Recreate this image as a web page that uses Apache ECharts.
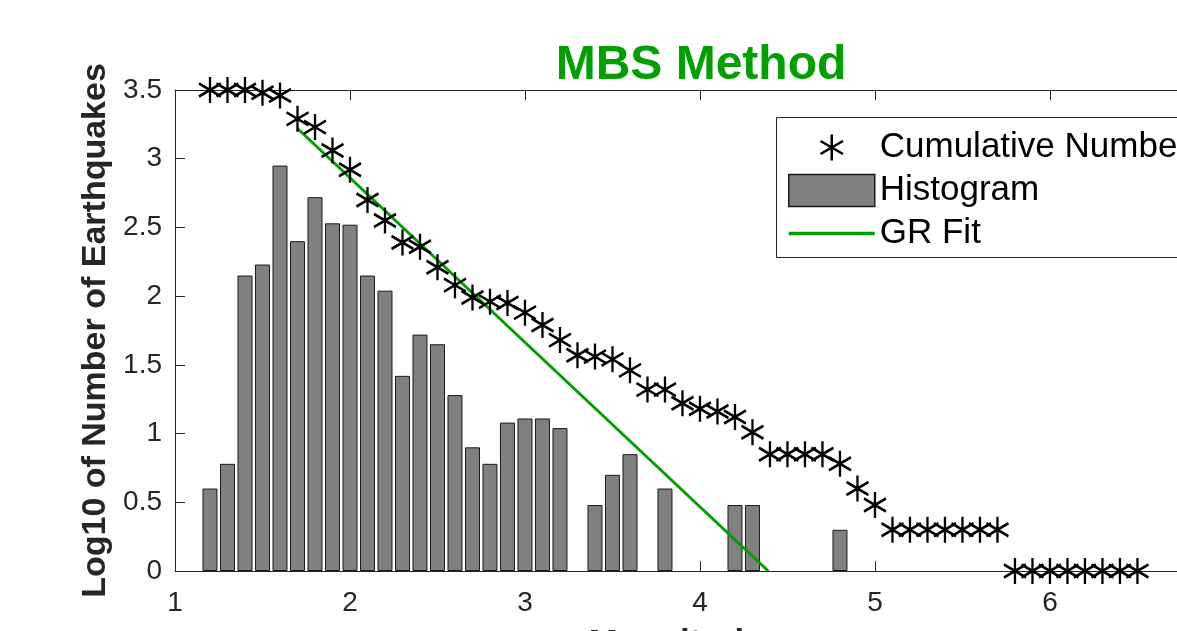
<!DOCTYPE html>
<html>
<head>
<meta charset="utf-8">
<script src="https://cdn.jsdelivr.net/npm/echarts@6/dist/echarts.min.js"></script>
<style>
html,body{margin:0;padding:0;background:#fff;}
#chart{width:1177px;height:631px;}
</style>
</head>
<body>
<div id="chart"></div>
<script>
// Cumulative number (log10) per magnitude bin
const cumMag = [1.2,1.3,1.4,1.5,1.6,1.7,1.8,1.9,2.0,2.1,2.2,2.3,2.4,2.5,2.6,2.7,2.8,2.9,3.0,3.1,3.2,3.3,3.4,3.5,3.6,3.7,3.8,3.9,4.0,4.1,4.2,4.3,4.4,4.5,4.6,4.7,4.8,4.9,5.0,5.1,5.2,5.3,5.4,5.5,5.6,5.7,5.8,5.9,6.0,6.1,6.2,6.3,6.4,6.5];
const cumLog = [3.50,3.50,3.50,3.48,3.46,3.29,3.23,3.06,2.92,2.70,2.55,2.39,2.36,2.21,2.08,1.99,1.96,1.95,1.88,1.79,1.68,1.57,1.56,1.54,1.46,1.32,1.32,1.22,1.18,1.16,1.12,1.01,0.85,0.85,0.85,0.85,0.78,0.60,0.48,0.30,0.30,0.30,0.30,0.30,0.30,0.30,0,0,0,0,0,0,0,0];

// Histogram (log10 of count per bin), non-empty bins
const histMag = [1.2,1.3,1.4,1.5,1.6,1.7,1.8,1.9,2.0,2.1,2.2,2.3,2.4,2.5,2.6,2.7,2.8,2.9,3.0,3.1,3.2,3.4,3.5,3.6,3.8,4.2,4.3,4.8];
const histLog = [0.60,0.78,2.15,2.23,2.95,2.40,2.72,2.53,2.52,2.15,2.04,1.42,1.72,1.65,1.28,0.90,0.78,1.08,1.11,1.11,1.04,0.48,0.70,0.85,0.60,0.48,0.48,0.30];

// Gutenberg-Richter fit line end points
const fitMag = [1.7, 4.39];
const fitLog = [3.22, 0];

const xTicks = [1,2,3,4,5,6];
const yTicks = [0,0.5,1,1.5,2,2.5,3,3.5];

const FONT = 'Liberation Sans, Arial, Helvetica, sans-serif';
const AX = '#262626';
const starPath = 'path://M0,-10L0,10M-8.66,-5L8.66,5M-8.66,5L8.66,-5';
const starLegend = 'path://M-16,-16M16,16M0,-13L0,13M-11.26,-6.5L11.26,6.5M-11.26,6.5L11.26,-6.5';

const chart = echarts.init(document.getElementById('chart'), null, {renderer:'canvas'});
const option = {
  backgroundColor: '#fff',
  animation: false,
  title: {
    text: 'MBS Method',
    left: 701, top: 42, padding: 0,
    textAlign: 'center',
    textStyle: {color:'#00a000', fontSize:48, fontWeight:'bold', fontFamily:FONT}
  },
  grid: {left:175, top:90, bottom:60, right:0, containLabel:false, outerBoundsMode:'none'},
  graphic: [{
    type:'rect', left:776, top:117, z:50, zlevel:0,
    shape:{x:0, y:0, width:460, height:140},
    style:{fill:'#fff', stroke:AX, lineWidth:1}
  }],
  legend: {
    orient: 'vertical',
    left: 776, top: 117, z:60,
    padding: [13, 0, 8, 11],
    itemWidth: 86, itemHeight: 32, itemGap: 8,
    backgroundColor: 'transparent',
    borderWidth: 0,
    textStyle: {fontSize:35, color:'#000', fontFamily:FONT},
    data: [
      {name:'Cumulative Number', icon: starLegend,
       itemStyle:{color:'rgba(0,0,0,0)', borderColor:'#000', borderWidth:2.5}},
      {name:'Histogram', icon:'rect',
       itemStyle:{color:'#808080', borderColor:'#1a1a1a', borderWidth:1.5}},
      {name:'GR Fit',
       itemStyle:{opacity:0},
       lineStyle:{color:'#00a000', width:3.5}}
    ]
  },
  xAxis: [{
    type:'value', min:1, max:6.726, interval:1, position:'bottom',
    axisLine:{show:true, onZero:false, lineStyle:{color:AX, width:1}},
    axisTick:{show:true, inside:true, length:10, lineStyle:{color:AX}},
    axisLabel:{show:true, margin:18, fontSize:28, color:AX, fontFamily:FONT,
      formatter: v => xTicks.indexOf(v) >= 0 ? String(v) : ''},
    splitLine:{show:false},
    name:'Magnitude', nameLocation:'middle', nameGap:56,
    nameTextStyle:{fontSize:35, fontWeight:'bold', color:AX, fontFamily:FONT}
  },{
    type:'value', min:1, max:6.726, interval:1, position:'top',
    axisLine:{show:true, onZero:false, lineStyle:{color:AX, width:1}},
    axisTick:{show:true, inside:true, length:10, lineStyle:{color:AX}},
    axisLabel:{show:false}, splitLine:{show:false}
  }],
  yAxis: {
    type:'value', min:0, max:3.5, interval:0.5,
    axisLine:{show:true, lineStyle:{color:AX, width:1}},
    axisTick:{show:true, inside:true, length:10, lineStyle:{color:AX}},
    axisLabel:{show:true, margin:13, fontSize:28, color:AX, fontFamily:FONT,
      formatter: v => yTicks.indexOf(v) >= 0 ? String(v) : ''},
    splitLine:{show:false},
    name:'Log10 of Number of Earthquakes', nameLocation:'middle', nameGap:61,
    nameTextStyle:{fontSize:34, fontWeight:'bold', color:AX, fontFamily:FONT}
  },
  series: [
    {
      name:'Histogram', type:'bar', xAxisIndex:0, yAxisIndex:0,
      barWidth:15, z:2,
      itemStyle:{color:'#808080', borderColor:'#1a1a1a', borderWidth:1},
      data: histMag.map((m,i)=>[m, histLog[i]])
    },
    {
      name:'GR Fit', type:'line', xAxisIndex:0, yAxisIndex:0,
      symbol:'none', z:3,
      lineStyle:{color:'#00a000', width:3},
      itemStyle:{color:'#00a000'},
      data: fitMag.map((m,i)=>[m, fitLog[i]])
    },
    {
      name:'Cumulative Number', type:'scatter', xAxisIndex:0, yAxisIndex:0,
      symbol: starPath, symbolSize:[22,26], symbolKeepAspect:false, z:4,
      itemStyle:{color:'rgba(0,0,0,0)', borderColor:'#000', borderWidth:2.5, opacity:1},
      data: cumMag.map((m,i)=>[m, cumLog[i]])
    }
  ]
};
chart.setOption(option);
</script>
</body>
</html>
